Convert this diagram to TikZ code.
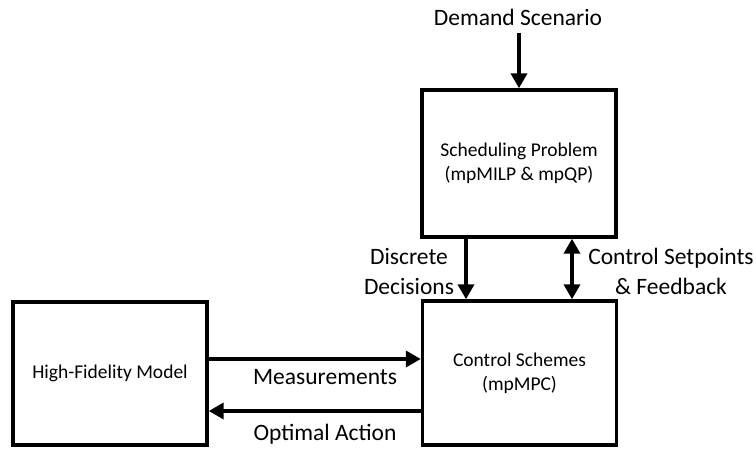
\documentclass[tikz,border=0pt]{standalone}
\usepackage{fontspec}
\setmainfont{Carlito}
\usetikzlibrary{arrows.meta}
\begin{document}
\begin{tikzpicture}[x=1pt,y=-1pt,
  block/.style={draw, line width=3.4pt, minimum width=194pt, align=center, font=\fontsize{19.5}{24}\selectfont, inner sep=0pt},
  link/.style={line width=3.8pt, -{Triangle[length=15pt,width=16pt]}},
  biarrow/.style={line width=3.8pt, {Triangle[length=15pt,width=16pt]}-{Triangle[length=15pt,width=16pt]}},
  lbl/.style={font=\fontsize{23.5}{30}\selectfont, align=center, inner sep=0pt}]
\useasboundingbox (0,0) rectangle (756,453);

\node[block, minimum height=147pt] (sched) at (519,163.5) {Scheduling Problem\\(mpMILP \& mpQP)};
\node[block, minimum height=144pt] (ctrl) at (519.5,373) {Control Schemes\\(mpMPC)};
\node[block, minimum height=143pt] (hfm) at (110,373.5) {High-Fidelity Model};

\node[lbl] (demand) at (518,17) {Demand Scenario};
\coordinate (dtop) at (519,33);
\draw[link] (dtop) -- (sched.north -| dtop);

% scheduling <-> control
\coordinate (dx) at (466,0);
\coordinate (fx) at (572,0);
\draw[link] (sched.south -| dx) -- (ctrl.north -| dx);
\draw[biarrow] (sched.south -| fx) -- (ctrl.north -| fx);
\node[lbl] (disc) at (409,271.5) {Discrete\\Decisions};
\node[lbl] (setp) at (671,271.5) {Control Setpoints\\\& Feedback};

% plant <-> controller
\coordinate (my) at (0,359);
\coordinate (oy) at (0,411);
\draw[link] (hfm.east |- my) -- (ctrl.west |- my);
\draw[link] (ctrl.west |- oy) -- (hfm.east |- oy);
\node[lbl] (meas) at (325,377) {Measurements};
\node[lbl] (opt) at (325,434) {Optimal Action};
\end{tikzpicture}
\end{document}
